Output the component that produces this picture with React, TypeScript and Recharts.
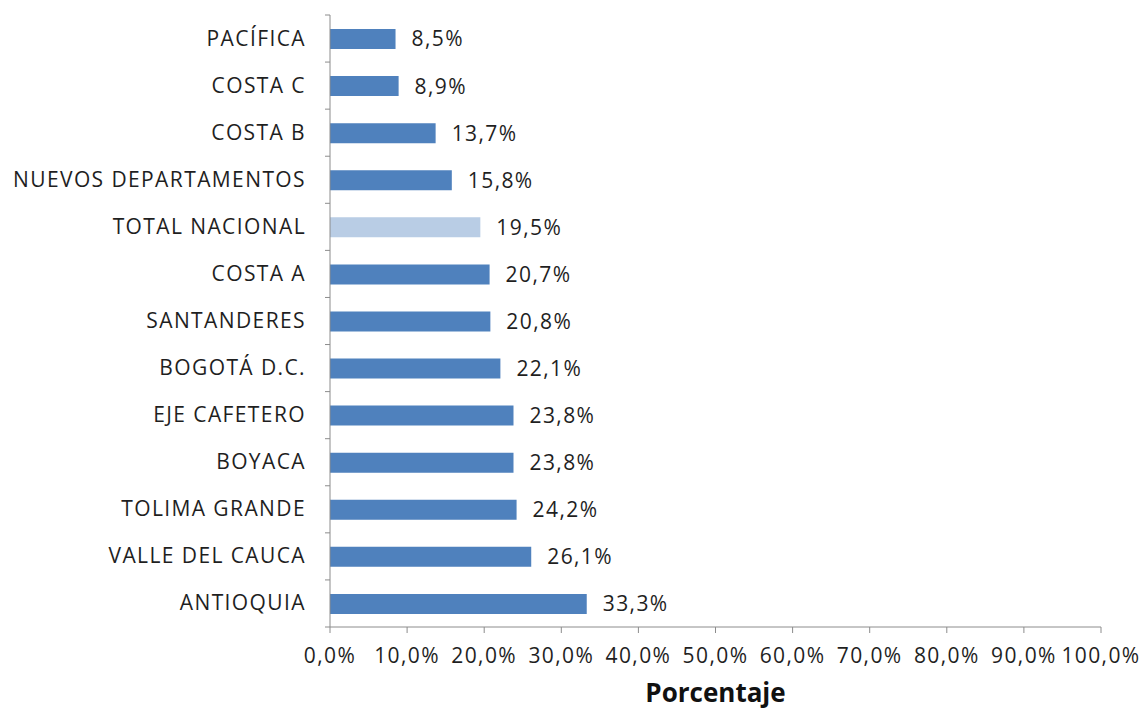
import React from 'react';
import { BarChart, Bar, XAxis, YAxis, Cell, LabelList } from 'recharts';

const regions = [
  'PACÍFICA',
  'COSTA C',
  'COSTA B',
  'NUEVOS DEPARTAMENTOS',
  'TOTAL NACIONAL',
  'COSTA A',
  'SANTANDERES',
  'BOGOTÁ D.C.',
  'EJE CAFETERO',
  'BOYACA',
  'TOLIMA GRANDE',
  'VALLE DEL CAUCA',
  'ANTIOQUIA',
];
const percents = [8.5, 8.9, 13.7, 15.8, 19.5, 20.7, 20.8, 22.1, 23.8, 23.8, 24.2, 26.1, 33.3];
const xTicks = [0, 10, 20, 30, 40, 50, 60, 70, 80, 90, 100];

const data = regions.map((region, i) => ({ region, value: percents[i] }));

const FONT = '"Open Sans", sans-serif';
const TEXT = '#1f1f1f';
const AXIS = '#8c8c8c';
const SPACING = 1.4;

const fmt = (v: number) => v.toFixed(1).replace('.', ',') + '%';

// category tick: label plus small tick marks on the band edges (Excel style)
const RegionTick = (props: any) => {
  const { x, y, payload, index } = props;
  const band = 612 / regions.length;
  const axisX = x + 20;
  return (
    <g>
      <line x1={axisX - 5} x2={axisX} y1={y - band / 2} y2={y - band / 2} stroke={AXIS} />
      {index === regions.length - 1 && (
        <line x1={axisX - 5} x2={axisX} y1={y + band / 2} y2={y + band / 2} stroke={AXIS} />
      )}
      <text
        x={x - 4}
        y={y}
        dy={7}
        textAnchor="end"
        fill={TEXT}
        fontSize={21}
        letterSpacing={SPACING}
        fontFamily={FONT}
      >
        {payload.value}
      </text>
    </g>
  );
};

const App = () => {
  return (
    <div style={{ position: 'absolute', left: 0, top: 0, background: '#fff' }}>
      <BarChart
        width={1143}
        height={709}
        data={data}
        layout="vertical"
        margin={{ top: 15, right: 42, bottom: 0, left: 0 }}
        barCategoryGap={0}
      >
        <XAxis
          type="number"
          domain={[0, 100]}
          ticks={xTicks}
          interval={0}
          tickFormatter={fmt}
          stroke={AXIS}
          tickSize={6}
          tickMargin={15}
          height={82}
          tick={{ fill: TEXT, fontSize: 21, fontFamily: FONT, letterSpacing: SPACING }}
          label={{
            value: 'Porcentaje',
            position: 'insideBottom',
            offset: 7,
            fill: '#111',
            fontSize: 26,
            fontWeight: 'bold',
            fontFamily: FONT,
          }}
        />
        <YAxis
          type="category"
          dataKey="region"
          width={330}
          stroke={AXIS}
          tickLine={false}
          tickSize={0}
          tickMargin={20}
          interval={0}
          tick={<RegionTick />}
        />
        <Bar dataKey="value" barSize={20} isAnimationActive={false}>
          {data.map((d) => (
            <Cell key={d.region} fill={d.region === 'TOTAL NACIONAL' ? '#b9cde5' : '#4f81bd'} />
          ))}
          <LabelList
            dataKey="value"
            position="right"
            offset={16}
            formatter={(v: any) => fmt(Number(v))}
            fill={TEXT}
            fontSize={21}
            letterSpacing={SPACING}
            fontFamily={FONT}
          />
        </Bar>
      </BarChart>
    </div>
  );
};

export default App;
